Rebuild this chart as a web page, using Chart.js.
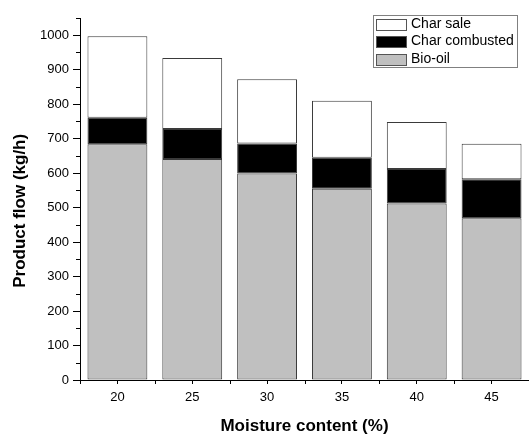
<!DOCTYPE html>
<html>
<head>
<meta charset="utf-8">
<script src="https://cdn.jsdelivr.net/npm/chart.js@4.4.1/dist/chart.umd.min.js"></script>
<style>
  html, body { margin: 0; padding: 0; background: #fff; }
  #wrap { width: 529px; height: 434px; }
</style>
</head>
<body>
<div id="wrap"><canvas id="chart" width="529" height="434"></canvas></div>
<script>
// moisture content categories (%)
const moisture = ['20', '25', '30', '35', '40', '45']
// product flows (kg/h), stacked bottom to top
const bioOil = [684, 641, 599, 555, 512, 469]
const charCombusted = [77, 87, 87, 90, 100, 113]
const charSale = [236, 206, 186, 165, 136, 103]
// minor tick values on the y axis
const yMinor = [50, 150, 250, 350, 450, 550, 650, 750, 850, 950, 1050]

Chart.defaults.font.family = 'Arial, "Liberation Sans", Helvetica, sans-serif'
Chart.defaults.color = '#000'

// minor ticks, category boundary ticks and the boxed legend
const axisExtras = {
  id: 'axisExtras',
  afterDraw(chart) {
    const { ctx, chartArea, scales: { x, y } } = chart
    ctx.save()
    ctx.strokeStyle = '#000'
    ctx.lineWidth = 1
    ctx.beginPath()
    yMinor.forEach(v => {
      const py = Math.round(y.getPixelForValue(v)) + 0.5
      ctx.moveTo(chartArea.left - 4, py)
      ctx.lineTo(chartArea.left, py)
    })
    for (let i = 0; i <= moisture.length; i++) {
      const px = Math.round(x.getPixelForValue(i - 0.5)) + 0.5
      ctx.moveTo(px, chartArea.bottom)
      ctx.lineTo(px, chartArea.bottom + 4)
    }
    ctx.stroke()

    // legend box, top right
    const items = chart.data.datasets.slice().reverse()
    const bx = chartArea.right - 156, by = chartArea.top - 3
    ctx.fillStyle = '#fff'
    ctx.fillRect(bx, by, 144, 52)
    ctx.strokeStyle = '#808080'
    ctx.strokeRect(bx + 0.5, by + 0.5, 144, 52)
    ctx.font = '14px Arial, "Liberation Sans", sans-serif'
    ctx.textBaseline = 'middle'
    items.forEach((ds, i) => {
      const cy = by + 8.5 + i * 17.5
      ctx.fillStyle = ds.backgroundColor
      ctx.fillRect(bx + 3, Math.round(cy - 5), 30, 11)
      ctx.strokeStyle = '#555'
      ctx.strokeRect(bx + 3.5, Math.round(cy - 5) + 0.5, 30, 11)
      ctx.fillStyle = '#000'
      ctx.fillText(ds.label, bx + 38, cy + 0.5)
    })
    ctx.restore()
  }
}

const barStyle = {
  borderColor: '#3a3a3a',
  borderWidth: 1,
  borderSkipped: false,
  barPercentage: 0.8,
  categoryPercentage: 1.0
}

new Chart(document.getElementById('chart'), {
  type: 'bar',
  data: {
    labels: moisture,
    datasets: [
      { label: 'Bio-oil', data: bioOil, backgroundColor: '#c0c0c0', ...barStyle },
      { label: 'Char combusted', data: charCombusted, backgroundColor: '#000000', ...barStyle },
      { label: 'Char sale', data: charSale, backgroundColor: '#ffffff', ...barStyle }
    ]
  },
  options: {
    responsive: false,
    animation: false,
    layout: { padding: { top: 18, right: 0, bottom: 0, left: 0 } },
    plugins: {
      legend: { display: false },
      tooltip: { enabled: false }
    },
    scales: {
      x: {
        stacked: true,
        afterFit: s => { s.height = 54 },
        grid: { offset: false, drawOnChartArea: false, tickLength: 4, tickColor: '#000', color: '#000' },
        border: { color: '#000', width: 1 },
        ticks: { padding: 6, font: { size: 13 }, maxRotation: 0 },
        title: {
          display: true,
          text: 'Moisture content (%)',
          font: { size: 17, weight: 'bold', lineHeight: 0.85 },
          padding: { top: 0, bottom: 0 }
        }
      },
      y: {
        stacked: true,
        min: 0,
        max: 1050,
        afterFit: s => { s.width = 80 },
        grid: { drawOnChartArea: false, tickLength: 7, tickColor: '#000', color: '#000' },
        border: { color: '#000', width: 1 },
        ticks: { stepSize: 100, includeBounds: false, padding: 4, font: { size: 13 }, callback: v => String(v) },
        title: {
          display: true,
          // trailing spaces nudge the title down to sit where the original does
          text: 'Product flow (kg/h)     ',
          font: { size: 17, weight: 'bold' },
          padding: { top: 10, bottom: 0 }
        }
      }
    }
  },
  plugins: [axisExtras]
})
</script>
</body>
</html>
